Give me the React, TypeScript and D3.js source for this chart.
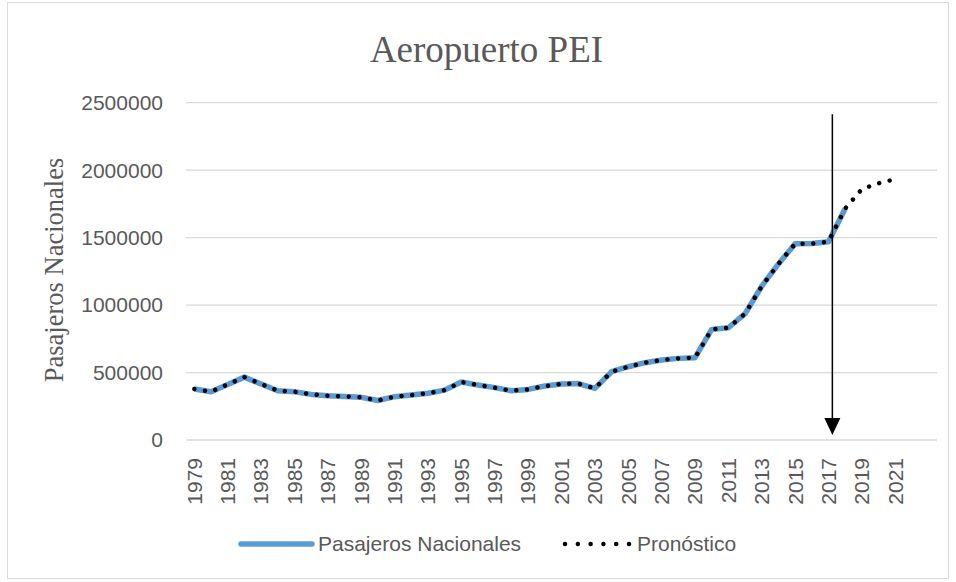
import React from 'react';
import * as d3 from 'd3';

const categories: number[] = d3.range(1979, 2024);
const actualYears: number[] = d3.range(1979, 2019);
const pasajeros: number[] = [
  378000, 358000, 412000, 466000, 415000, 365000, 358000, 338000, 328000, 323000,
  316000, 293000, 321000, 333000, 346000, 370000, 430000, 407000, 388000, 365000,
  375000, 400000, 415000, 418000, 383000, 506000, 543000, 573000, 593000, 605000,
  610000, 820000, 832000, 936000, 1140000, 1305000, 1455000, 1456000, 1470000, 1716000,
];
const forecastYears: number[] = [2019, 2020, 2021];
const forecastValues: number[] = [1860000, 1903000, 1933000];
const yTicks: number[] = [0, 500000, 1000000, 1500000, 2000000, 2500000];
const xTickLabels: string[] = [
  '1979', '1981', '1983', '1985', '1987', '1989', '1991', '1993', '1995', '1997', '1999',
  '2001', '2003', '2005', '2007', '2009', '2011', '2013', '2015', '2017', '2019', '2021',
];
const arrowYear = 2017;
const arrowTop = 2415000;
const arrowTip = 37000;

const W = 956;
const H = 582;
const left = 186;
const right = 937;
const top = 102.7;
const bottom = 440;

export default function App() {
  const xb = d3.scaleBand<number>().domain(categories).range([left, right]).padding(0);
  const xp = (yr: number) => (xb(yr) as number) + xb.bandwidth() / 2;
  const y = d3.scaleLinear().domain([0, 2500000]).range([bottom, top]);

  const line = d3
    .line<[number, number]>()
    .x((d) => xp(d[0]))
    .y((d) => y(d[1]));

  const actual: [number, number][] = actualYears.map((yr, i) => [yr, pasajeros[i]]);
  const forecast: [number, number][] = actual.concat(
    forecastYears.map((yr, i) => [yr, forecastValues[i]] as [number, number])
  );

  const sans = "'Liberation Sans', Arial, sans-serif";
  const serif = "'Liberation Serif', 'Times New Roman', serif";
  const gray = '#595959';
  const blue = '#5B9BD5';

  const ax = xp(arrowYear) + xb.bandwidth() * 0.23;
  const ay1 = y(arrowTop);
  const ay2 = y(arrowTip);
  const ah = 17;
  const aw = 8;

  return (
    <svg
      width={W}
      height={H}
      style={{ position: 'absolute', left: 0, top: 0, background: '#fff' }}
    >
      <rect x={7.5} y={2.5} width={941} height={576} fill="#fff" stroke="#d9d9d9" strokeWidth={1} />
      <text x={486.5} y={62} textAnchor="middle" fontFamily={serif} fontSize={37} fill={gray}>
        Aeropuerto PEI
      </text>
      <text
        transform={`translate(63,270) rotate(-90)`}
        textAnchor="middle"
        fontFamily={serif}
        fontSize={26.5}
        fill={gray}
      >
        Pasajeros Nacionales
      </text>
      {yTicks.map((t) => (
        <g key={t}>
          <line x1={left} x2={right} y1={y(t)} y2={y(t)} stroke="#d9d9d9" strokeWidth={1.3} />
          <text
            x={163}
            y={y(t)}
            dy="0.35em"
            textAnchor="end"
            fontFamily={sans}
            fontSize={21}
            fill={gray}
          >
            {t}
          </text>
        </g>
      ))}
      {xTickLabels.map((lab) => (
        <text
          key={lab}
          transform={`translate(${xp(+lab)},458) rotate(-90)`}
          dy="0.35em"
          textAnchor="end"
          fontFamily={sans}
          fontSize={21}
          fill={gray}
        >
          {lab}
        </text>
      ))}
      <path
        d={line(actual) as string}
        fill="none"
        stroke={blue}
        strokeWidth={5.5}
        strokeLinejoin="round"
      />
      <path
        d={line(forecast) as string}
        fill="none"
        stroke="#000"
        strokeWidth={4.5}
        strokeLinecap="round"
        strokeDasharray="0.01 10.7"
      />
      <line x1={ax} x2={ax} y1={ay1} y2={ay2 - ah} stroke="#000" strokeWidth={1.5} />
      <path
        d={`M${ax - aw},${ay2 - ah} L${ax + aw},${ay2 - ah} L${ax},${ay2} Z`}
        fill="#000"
      />
      <line x1={241} x2={312} y1={544} y2={544} stroke={blue} strokeWidth={5.5} strokeLinecap="round" />
      <text x={318} y={544} dy="0.35em" fontFamily={sans} fontSize={21} fill={gray}>
        Pasajeros Nacionales
      </text>
      <line
        x1={565}
        x2={630}
        y1={544}
        y2={544}
        stroke="#000"
        strokeWidth={4.5}
        strokeLinecap="round"
        strokeDasharray="0.01 12.8"
      />
      <text x={637} y={544} dy="0.35em" fontFamily={sans} fontSize={21} fill={gray}>
        Pronóstico
      </text>
    </svg>
  );
}
